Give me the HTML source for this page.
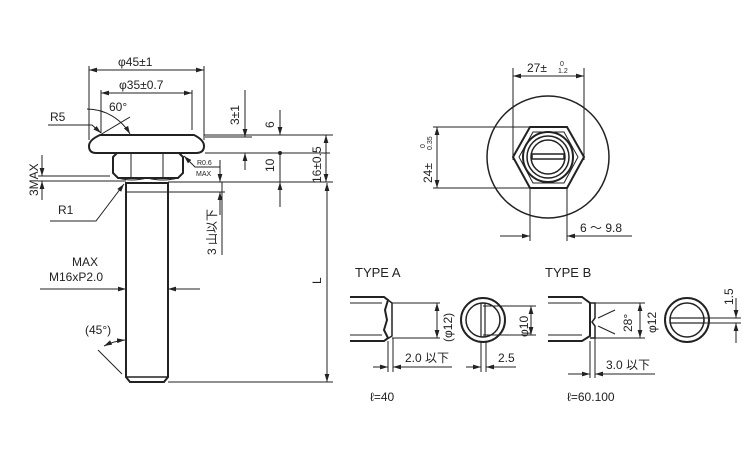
<!DOCTYPE html>
<html><head><meta charset="utf-8"><style>
html,body{margin:0;padding:0;background:#fff;}
svg{display:block;}
text{font-family:"Liberation Sans","Noto Sans CJK JP",sans-serif;fill:#222;}
</style></head><body>
<svg width="750" height="450" viewBox="0 0 750 450" xmlns="http://www.w3.org/2000/svg">
<defs>
<marker id="a" viewBox="0 0 10 6" refX="10" refY="3" markerWidth="8" markerHeight="5" orient="auto-start-reverse" markerUnits="userSpaceOnUse"><path d="M0,0L10,3L0,6z" fill="#222"/></marker>
</defs>
<g stroke="#222" fill="none" stroke-width="1">
<path d="M100,135 L194,135 Q204,140 204,146 Q204,153 196,153 L96,153 Q89,153 89,146 Q89,140 100,135 Z" stroke-width="2"/>
<line x1="101" y1="135" x2="193" y2="135" stroke-width="1.5"/>
<path d="M117,153 L113,157 L113,173 L118,178 L178,178 L183,173 L183,157 L179,153" stroke-width="2"/>
<line x1="131" y1="153" x2="131" y2="177"/><line x1="163" y1="153" x2="163" y2="177"/>
<path d="M118,178 Q131,182 147,178 Q163,182 178,178" />
<path d="M126,182 L126,377 L130,382 L164,382 L168,377 L168,182" stroke-width="2"/>
<line x1="126" y1="183" x2="168" y2="183" stroke-width="2"/>
<line x1="126" y1="192" x2="168" y2="192"/>
<line x1="126" y1="377" x2="168" y2="377" stroke-width="1.5"/>
<line x1="89" y1="66" x2="89" y2="140"/><line x1="204" y1="66" x2="204" y2="140"/>
<line x1="89" y1="70" x2="204" y2="70" marker-start="url(#a)" marker-end="url(#a)"/>
<line x1="101" y1="90" x2="101" y2="133"/><line x1="192" y1="90" x2="192" y2="130"/>
<line x1="101" y1="93" x2="192" y2="93" marker-start="url(#a)" marker-end="url(#a)"/>
<path d="M87,109 A50,50 0 0 1 130,134" marker-end="url(#a)"/>
<line x1="100" y1="135" x2="130" y2="117"/>
<polyline points="48,125 92,125 101,133" marker-end="url(#a)"/>
<line x1="205" y1="137" x2="252" y2="137"/><line x1="205" y1="153" x2="330" y2="153"/>
<line x1="245" y1="90" x2="245" y2="137" marker-end="url(#a)"/>
<line x1="245" y1="170" x2="245" y2="153" marker-end="url(#a)"/>
<line x1="204" y1="135" x2="333" y2="135"/>
<line x1="280" y1="110" x2="280" y2="135" marker-end="url(#a)"/>
<circle cx="280" cy="153" r="1.5" fill="#222"/>
<line x1="280" y1="153" x2="280" y2="207"/>
<line x1="280" y1="207" x2="280" y2="182" marker-end="url(#a)"/>
<line x1="326" y1="135" x2="326" y2="182" marker-start="url(#a)" marker-end="url(#a)"/>
<line x1="168" y1="182" x2="333" y2="182"/>
<line x1="38" y1="176" x2="110" y2="176"/><line x1="38" y1="181" x2="126" y2="181"/>
<line x1="42" y1="155" x2="42" y2="176" marker-end="url(#a)"/>
<line x1="42" y1="200" x2="42" y2="181" marker-end="url(#a)"/>
<polyline points="220,167 195,167 184,156" marker-end="url(#a)"/>
<line x1="168" y1="192" x2="225" y2="192"/>
<line x1="220" y1="160" x2="220" y2="182" marker-end="url(#a)"/>
<line x1="220" y1="215" x2="220" y2="192" marker-end="url(#a)"/>
<line x1="222" y1="182" x2="222" y2="255"/>
<polyline points="50,221 96,221 124,184" marker-end="url(#a)"/>
<line x1="40" y1="289" x2="126" y2="289" marker-end="url(#a)"/>
<line x1="200" y1="289" x2="168" y2="289" marker-end="url(#a)"/>
<line x1="98" y1="350" x2="122" y2="374"/>
<path d="M104,346 Q114,341 125,340" marker-start="url(#a)" marker-end="url(#a)"/>
<line x1="168" y1="382" x2="333" y2="382"/>
<line x1="327" y1="183" x2="327" y2="382" marker-start="url(#a)" marker-end="url(#a)"/>

<circle cx="548" cy="157" r="61" stroke-width="1.5"/>
<path d="M530,127 L567,127 L584,157 L567,188 L530,188 L513,157 Z" stroke-width="2"/>
<path d="M533,132 L564,132 L578,157 L564,183 L533,183 L519,157 Z" stroke-width="1"/>
<circle cx="548" cy="157" r="25" stroke-width="2"/>
<circle cx="548" cy="157" r="21" stroke-width="1.5"/>
<circle cx="548" cy="157" r="17" stroke-width="1.5"/>
<rect x="532" y="154" width="32" height="5" stroke-width="1.5"/>
<line x1="513" y1="68" x2="513" y2="160"/><line x1="584" y1="68" x2="584" y2="160"/>
<line x1="513" y1="76" x2="584" y2="76" marker-start="url(#a)" marker-end="url(#a)"/>
<line x1="433" y1="127" x2="535" y2="127"/><line x1="433" y1="188" x2="530" y2="188"/>
<line x1="437" y1="127" x2="437" y2="188" marker-start="url(#a)" marker-end="url(#a)"/>
<line x1="530" y1="188" x2="530" y2="241"/><line x1="567" y1="188" x2="567" y2="241"/>
<line x1="500" y1="236" x2="530" y2="236" marker-end="url(#a)"/>
<line x1="632" y1="236" x2="567" y2="236" marker-end="url(#a)"/>

<path d="M350,297 L384,297 L388,300 L385,310 L387,320 L384,330 L388,338 L384,341 L350,341" stroke-width="2"/>
<line x1="350" y1="303" x2="382" y2="303"/><line x1="350" y1="335" x2="382" y2="335"/>
<path d="M384,297 L392,303 L392,336 L384,341" stroke-width="1.5"/>
<line x1="392" y1="303" x2="440" y2="303"/><line x1="392" y1="338" x2="440" y2="338"/>
<line x1="437" y1="303" x2="437" y2="338" marker-start="url(#a)" marker-end="url(#a)"/>
<line x1="388" y1="341" x2="388" y2="372"/><line x1="393" y1="338" x2="393" y2="372"/>
<line x1="373" y1="367" x2="388" y2="367" marker-end="url(#a)"/>
<line x1="452" y1="367" x2="393" y2="367" marker-end="url(#a)"/>
<circle cx="483" cy="320" r="22" stroke-width="2"/>
<circle cx="483" cy="320" r="17" stroke-width="1.5"/>
<rect x="481" y="303" width="4" height="34" stroke-width="1.2"/>
<line x1="483" y1="306" x2="536" y2="306"/><line x1="483" y1="335" x2="536" y2="335"/>
<line x1="531" y1="306" x2="531" y2="335" marker-start="url(#a)" marker-end="url(#a)"/>
<line x1="481" y1="342" x2="481" y2="372"/><line x1="486" y1="342" x2="486" y2="372"/>
<line x1="466" y1="367" x2="481" y2="367" marker-end="url(#a)"/>
<line x1="516" y1="367" x2="486" y2="367" marker-end="url(#a)"/>

<path d="M548,297 L582,297 L590,303 L590,336 L582,341 L548,341" stroke-width="2"/>
<line x1="548" y1="303" x2="582" y2="303"/><line x1="548" y1="335" x2="582" y2="335"/>
<path d="M590,303 L595,303 L595,318 L592,322 L595,326 L595,338 L590,338" stroke-width="1.5"/>
<line x1="598" y1="318" x2="615" y2="310"/><line x1="598" y1="326" x2="615" y2="334"/>
<line x1="595" y1="303" x2="645" y2="303"/><line x1="595" y1="338" x2="645" y2="338"/>
<line x1="640" y1="303" x2="640" y2="338" marker-start="url(#a)" marker-end="url(#a)"/>
<line x1="590" y1="341" x2="590" y2="378"/><line x1="595" y1="338" x2="595" y2="378"/>
<line x1="568" y1="374" x2="590" y2="374" marker-end="url(#a)"/>
<line x1="655" y1="374" x2="595" y2="374" marker-end="url(#a)"/>
<circle cx="687" cy="320" r="22" stroke-width="2"/>
<circle cx="687" cy="320" r="17" stroke-width="1.5"/>
<rect x="670" y="318" width="34" height="5" stroke-width="1.2"/>
<line x1="700" y1="318" x2="741" y2="318"/><line x1="700" y1="323" x2="741" y2="323"/>
<line x1="736" y1="298" x2="736" y2="318" marker-end="url(#a)"/>
<line x1="736" y1="343" x2="736" y2="323" marker-end="url(#a)"/>
</g>

<g font-size="12">
<text x="118" y="66">φ45±1</text>
<text x="119" y="89">φ35±0.7</text>
<text x="109" y="111">60°</text>
<text x="50" y="121">R5</text>
<text x="58" y="214">R1</text>
<text x="72" y="266">MAX</text>
<text x="49" y="281">M16xP2.0</text>
<text x="85" y="334">(45°)</text>
<text x="197" y="165" font-size="7">R0.6</text>
<text x="196" y="176" font-size="7">MAX</text>
<text transform="translate(239,125) rotate(-90)">3±1</text>
<text transform="translate(274,128) rotate(-90)">6</text>
<text transform="translate(274,172) rotate(-90)">10</text>
<text transform="translate(321,183) rotate(-90)">16±0.5</text>
<text transform="translate(38,196) rotate(-90)">3MAX</text>
<text transform="translate(216,255) rotate(-90)">3 山以下</text>
<text transform="translate(321,284) rotate(-90)">L</text>
<text x="527" y="72">27±</text>
<text x="560" y="66" font-size="7">0</text>
<text x="558" y="73" font-size="7">1.2</text>
<text transform="translate(432,183) rotate(-90)">24±</text>
<text transform="translate(425,148) rotate(-90)" font-size="7">0</text>
<text transform="translate(432,150) rotate(-90)" font-size="7">0.35</text>
<text x="580" y="232">6 ～ 9.8</text>
<text x="355" y="277" font-size="13">TYPE A</text>
<text x="545" y="277" font-size="13">TYPE B</text>
<text transform="translate(452,342) rotate(-90)">(φ12)</text>
<text transform="translate(528,337) rotate(-90)">φ10</text>
<text x="405" y="362">2.0 以下</text>
<text x="498" y="362">2.5</text>
<text transform="translate(632,332) rotate(-90)">28°</text>
<text transform="translate(656,333) rotate(-90)">φ12</text>
<text transform="translate(733,305) rotate(-90)">1.5</text>
<text x="606" y="369">3.0 以下</text>
<text x="370" y="401" font-size="12">ℓ=40</text>
<text x="567" y="401" font-size="12">ℓ=60.100</text>
</g>
</svg>
</body></html>
